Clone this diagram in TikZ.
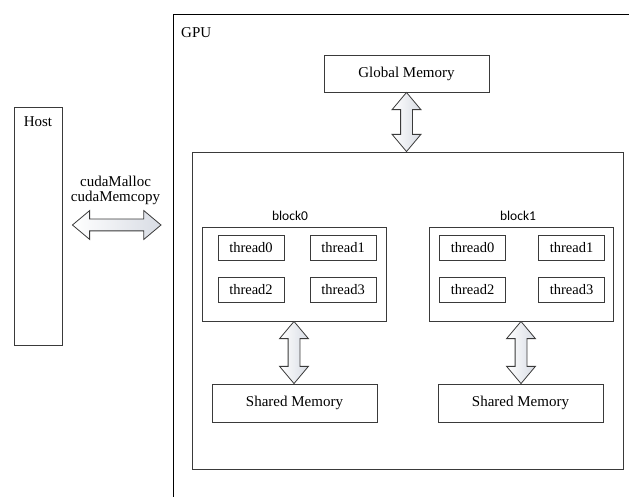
\documentclass[tikz,border=0pt]{standalone}
\usepackage{fontspec}
\setmainfont{Liberation Serif}
\newfontfamily\serf{Liberation Serif}
\newfontfamily\blkfont{Carlito}
\usepackage{xcolor}
\usepackage{tikz}
\usetikzlibrary{calc,positioning,shapes.arrows}
\definecolor{edgec}{HTML}{3A3A3A}
\definecolor{arrfill}{HTML}{D8DCE4}
\tikzset{
  box/.style={draw=edgec,line width=0.9pt,inner sep=0pt,align=center,font=\serf\fontsize{15}{18}\selectfont},
  thr/.style={box,minimum width=66pt,minimum height=25pt,font=\serf\fontsize{14.5}{17}\selectfont},
  lbl/.style={inner sep=0pt,font=\serf\fontsize{15}{18}\selectfont},
  blbl/.style={inner sep=0pt,font=\blkfont\fontsize{13.5}{16}\selectfont},
  darr/.style={double arrow,draw=edgec,line width=0.8pt,left color=white,right color=arrfill,
    double arrow head extend=8.5pt,double arrow tip angle=80,inner xsep=0pt,inner ysep=5.5pt,outer sep=0pt}
}
\newcommand{\dbl}[2]{\path let \p1=(#1), \p2=(#2), \n1={veclen(\x2-\x1,\y2-\y1)}, \n2={atan2(\y2-\y1,\x2-\x1)} in
  node[darr,minimum height=\n1,rotate=\n2] at ($(#1)!0.5!(#2)$) {};}

\begin{document}
\begin{tikzpicture}[x=1pt,y=-1pt]
\useasboundingbox (0,0) rectangle (629,497);
% host side
\node[box,minimum width=48pt,minimum height=238pt] (host) at (38,226) {};
\node[lbl] (hostl) at (38,122) {Host};
\node[lbl,align=center,font=\serf\fontsize{15}{15}\selectfont] (api) at (115.5,190.5) {cudaMalloc\\cudaMemcopy};
% gpu frame, open to the right and below
\draw[line width=0.9pt] (629,14) -- (173,14) -- (173,497);
\coordinate (gpuedge) at (173,225);
\node[lbl,anchor=west] (gpul) at (181,33) {GPU};
\node[box,minimum width=165pt,minimum height=37pt] (gmem) at (406.5,73.5) {Global Memory};
\node[box,minimum width=431pt,minimum height=317pt] (grid) at (407.5,310.5) {};
% blocks
\node[box,minimum width=184pt,minimum height=94pt] (blk0) at (294,274) {};
\node[box,minimum width=184pt,minimum height=94pt] (blk1) at (521,274) {};
\node[blbl] (blk0l) at (290,216) {block0};
\node[blbl] (blk1l) at (518,216) {block1};
\foreach \b/\xa/\xb in {0/251/343,1/472.5/571.5}{
  \node[thr] (t\b0) at (\xa,247.5) {thread0};
  \node[thr] (t\b1) at (\xb,247.5) {thread1};
  \node[thr] (t\b2) at (\xa,289.5) {thread2};
  \node[thr] (t\b3) at (\xb,289.5) {thread3};
}
\node[box,minimum width=165pt,minimum height=38pt] (smem0) at (294.5,403) {Shared Memory};
\node[box,minimum width=165pt,minimum height=38pt] (smem1) at (520.5,403) {Shared Memory};
% transfers
\coordinate (ha) at ([xshift=10pt]host.east |- gpuedge);
\coordinate (hb) at ([xshift=-12pt]gpuedge);
\dbl{ha}{hb}
\dbl{gmem.south}{gmem.south |- grid.north}
\dbl{blk0.south}{blk0.south |- smem0.north}
\dbl{blk1.south}{blk1.south |- smem1.north}
\end{tikzpicture}
\end{document}
